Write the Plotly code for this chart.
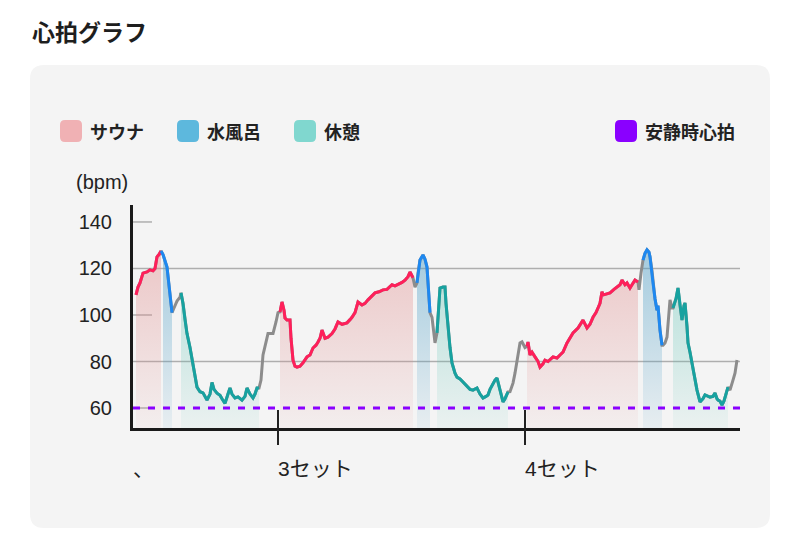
import plotly.graph_objects as go

# ---------------- data ----------------
# time in minutes, heart rate in bpm, phase per sample
# S = サウナ, W = 水風呂, R = 休憩, G = 移動(グレー)
times = [
    0.75, 1.25, 1.75, 2.5, 3.5, 4.25, 5, 5.5, 6, 6.5, 7,
    7.5, 8.5, 9.25, 9.75,
    10.25, 11, 11.75,
    12, 12.5, 13, 13.5, 14.25, 14.75, 15.5, 16, 16.75, 17.5, 18.5, 19.25, 19.75, 20.25,
    21, 21.75, 22.25, 23, 23.75, 24.25, 24.75, 25.5, 26.25, 27.25, 28, 28.5, 29.25, 30,
    30.5, 31, 31.5,
    32, 32.5, 33.25, 33.75, 34.5, 35, 35.75, 36.25,
    36.75, 37.25, 37.75, 38, 38.5, 39.25, 39.5, 40, 40.5, 41, 41.75, 42.5, 43.5, 44.25,
    45, 45.75, 46.25, 46.75, 47.25, 48, 48.75, 49.75, 50.5, 51.25, 52.25, 53.5, 54.25,
    54.75, 55.5, 56.25, 57.25, 58, 58.75, 59.75, 60.5, 61.5, 62.5, 63.5, 64.75, 65.5,
    66.25, 67.25, 68, 68.75, 69.25, 70,
    70.5,
    71, 71.25, 71.75, 72.5, 73, 73.5, 73.75, 74.25,
    74.75, 75.25, 75.5,
    76, 76.25, 76.75, 77.5, 78, 78.25, 78.75, 79.25, 79.75, 80.5, 81, 81.75, 82.5, 83.25,
    84.25, 85, 86, 86.75, 87.5, 88.25, 88.75, 89.25, 89.75, 90.5, 91, 91.75, 92.5, 93, 93.75,
    94.25, 95, 95.5, 96, 96.75, 97.25, 98,
    98.5, 98.75, 99.25, 99.75, 100.5, 101.25, 101.75, 102.5, 103, 103.75, 105, 106, 106.75,
    107.5, 108.5, 109.25, 110, 111.25, 112.5, 113.5, 114.25, 115, 115.75, 116.25, 116.75,
    117.25, 117.5, 118.25, 119.25, 120.25, 121, 121.75, 122.25, 123, 123.5, 124.25, 124.75,
    125.5, 126.25,
    126.5, 127,
    127.5, 128, 128.5, 129, 129.25, 129.75, 130, 130.5, 131, 131.25, 131.75, 132.25,
    132.5, 133, 133.5, 134, 134.25, 134.75,
    135, 135.75, 136.25, 136.75, 137.25, 137.75, 138, 138.5, 138.75, 139.25, 139.75, 140.5,
    141, 141.75, 142.5, 143, 143.75, 144.25, 145, 145.5, 146, 146.25, 146.75, 147.25, 147.75,
    148, 148.5, 148.75,
    149.25, 149.75, 150, 150.5, 151,
]
bpm = [
    108.6, 112, 113.8, 118, 118.5, 119.4, 119, 120, 125, 126, 127.5,
    126, 120.6, 108, 101,
    103, 106, 107.7,
    109.5, 105, 98, 92, 86, 80.6, 74, 69, 67, 66.5, 63.4, 66, 71, 68,
    66.4, 65.5, 64, 62, 66, 68.6, 66, 64.3, 64.8, 63.4, 65, 68.6, 66, 64.3,
    66, 68.6, 68.6,
    72, 82.8, 88, 92, 92, 92, 97, 101,
    101.3, 105.6, 102, 98.7, 97.8, 97.8, 90, 80.6, 78, 77.6, 78, 79.4, 82, 82.8,
    85.8, 87, 88.4, 90, 93.5, 90, 90.5, 92, 94, 97, 96, 96.6, 98,
    99, 101, 105.6, 104.3, 105, 106.5, 108, 109.5, 110, 110.8, 111, 113, 112.5,
    113, 114, 115, 116.5, 118.5, 116,
    112,
    113.8, 118, 123.6, 125.8, 124, 120.6, 113, 101,
    99, 92, 88,
    92.3, 100, 111.6, 112, 112, 105, 94.8, 86, 79.4, 75, 73.3, 72.5, 71.2, 70,
    68, 67.7, 68.6, 66, 64.3, 65, 65.6, 68, 69.9, 72, 72.9, 68, 62.6, 64, 66.9,
    67, 70.7, 75, 80.6, 88, 88.5, 86,
    86.5, 88.4, 82.8, 84, 82, 80, 77.6, 79, 80.6, 80, 82, 81.5, 82.8,
    84, 88, 90, 92.3, 94.4, 97.8, 94.4, 96, 99, 101, 103, 105,
    110, 108.6, 109, 109.5, 111, 112, 113, 115, 113, 113.8, 111.6, 113,
    115, 114.2,
    110.8, 118,
    123.6, 126.5, 128, 127, 125, 119, 113.8, 107, 102, 104, 93.5, 87,
    87, 88, 90.5, 100, 106.5, 103,
    103, 107, 111.6, 104, 97.8, 104, 105.2, 95, 88, 84, 79.4, 73,
    67.7, 62.6, 64, 65.6, 65, 64.7, 65, 66.4, 64, 63.4, 63, 61.3, 63,
    64.7, 67, 69,
    67.7, 70, 72, 75, 80.6,
]
# phase of each run of samples, with its sample count
phase_runs = ["S", "W", "G", "R", "G", "S", "G", "W", "G", "R", "G",
              "S", "G", "W", "G", "R", "G"]
run_lengths = [11, 4, 3, 31, 8, 46, 1, 8, 3, 29, 7,
               39, 2, 12, 6, 28, 5]

resting_hr = 60
y_ticks = [60, 80, 100, 120, 140]
grid_full = [80, 120]
grid_stub = [60, 100, 140]
x_tick_vals = [0, 36.25, 98]
x_tick_text = ["、", "3セット", "4セット"]
legend_names = ["サウナ", "水風呂", "休憩", "安静時心拍"]
legend_colors = ["#f0b1b4", "#5db8dd", "#80d7cf", "#8a00ff"]

X_RANGE = [0, 151.75]
Y_RANGE = [51.4, 147.3]

# ---------------- styles ----------------
line_colors = {"S": "#ff1f5a", "W": "#1e88f0", "R": "#17a2a0", "G": "#8c8c8c"}
fill_scales = {
    "S": [[0, "rgba(225,140,140,0.06)"], [1, "rgba(225,140,140,0.45)"]],
    "W": [[0, "rgba(80,160,200,0.08)"], [1, "rgba(80,160,200,0.50)"]],
    "R": [[0, "rgba(90,195,180,0.06)"], [1, "rgba(90,195,180,0.46)"]],
}
JP = "Noto Sans CJK JP"
NUM = "Liberation Sans, Noto Sans CJK JP"

W_PX, H_PX = 800, 543
L, R, T, B = 133, 60, 205, 115
PW, PH = W_PX - L - R, H_PX - T - B


def xp(px):
    return (px - L) / PW


def yp(py):
    return (H_PX - B - py) / PH


def rounded_rect(x0, y0, x1, y1, r):
    a, b, c, d = xp(x0), yp(y0), xp(x1), yp(y1)
    rx, ry = r / PW, r / PH
    return (f"M {a+rx},{b} L {c-rx},{b} Q {c},{b} {c},{b-ry} "
            f"L {c},{d+ry} Q {c},{d} {c-rx},{d} L {a+rx},{d} "
            f"Q {a},{d} {a},{d+ry} L {a},{b-ry} Q {a},{b} {a+rx},{b} Z")


phase = []
for p, n in zip(phase_runs, run_lengths):
    phase += [p] * n
assert len(phase) == len(times) == len(bpm), (len(phase), len(times), len(bpm))

# ---------------- segments ----------------
segments = []
start = 0
for p, n in zip(phase_runs, run_lengths):
    segments.append((p, start, start + n))
    start += n

fig = go.Figure()

# fills
for ph, s, e in segments:
    if ph == "G":
        continue
    fig.add_trace(go.Scatter(
        x=times[s:e], y=bpm[s:e], mode="lines", line=dict(width=0),
        fill="tozeroy",
        fillgradient=dict(type="vertical", colorscale=fill_scales[ph],
                          start=Y_RANGE[0], stop=130),
        hoverinfo="skip",
    ))

# resting heart rate dashed line
fig.add_trace(go.Scatter(
    x=X_RANGE, y=[resting_hr, resting_hr], mode="lines",
    line=dict(color="#8a00ff", width=3, dash="7px,8px"), hoverinfo="skip",
))

# full gray line beneath
fig.add_trace(go.Scatter(
    x=times, y=bpm, mode="lines",
    line=dict(color=line_colors["G"], width=3), hoverinfo="skip",
))

# colored segments
for ph, s, e in segments:
    if ph == "G":
        continue
    s0 = s - 1 if s > 0 and phase[s - 1] != "G" else s
    fig.add_trace(go.Scatter(
        x=times[s0:e], y=bpm[s0:e], mode="lines",
        line=dict(color=line_colors[ph], width=3), hoverinfo="skip",
    ))

shapes = []
shapes.append(dict(type="path", xref="paper", yref="paper",
                   path=rounded_rect(30, 65, 770, 528, 14),
                   fillcolor="#f4f4f4", line=dict(width=0), layer="below"))
for v in grid_full:
    shapes.append(dict(type="line", xref="paper", yref="y", x0=0, x1=1, y0=v, y1=v,
                       line=dict(color="#aeaeae", width=1.5), layer="below"))
for v in grid_stub:
    shapes.append(dict(type="line", xref="paper", yref="y", x0=0, x1=xp(152), y0=v, y1=v,
                       line=dict(color="#aeaeae", width=1.5), layer="below"))
for v in x_tick_vals[1:]:
    shapes.append(dict(type="line", xref="x", yref="paper", x0=v, x1=v,
                       y0=yp(410), y1=yp(445), line=dict(color="#222222", width=2)))

annotations = []
annotations.append(dict(text="<b>心拍グラフ</b>", xref="paper", yref="paper",
                        x=xp(30), y=yp(31), xanchor="left", yanchor="middle",
                        showarrow=False, font=dict(family=JP, size=23, color="#1e1e1e")))
legend_x = [60, 177, 294, 615]
for name, col, lx in zip(legend_names, legend_colors, legend_x):
    shapes.append(dict(type="path", xref="paper", yref="paper",
                       path=rounded_rect(lx, 120, lx + 22, 142, 5),
                       fillcolor=col, line=dict(width=0)))
    annotations.append(dict(text=f"<b>{name}</b>", xref="paper", yref="paper",
                            x=xp(lx + 28), y=yp(131), xanchor="left", yanchor="middle",
                            showarrow=False, font=dict(family=JP, size=18, color="#222222")))
annotations.append(dict(text="(bpm)", xref="paper", yref="paper",
                        x=xp(74), y=yp(182), xanchor="left", yanchor="middle",
                        showarrow=False, font=dict(family=NUM, size=20, color="#222222")))
for v, t in zip(x_tick_vals, x_tick_text):
    annotations.append(dict(text=t, xref="x", yref="paper", x=v, y=yp(468),
                            xanchor="left", yanchor="middle", xshift=-2,
                            showarrow=False, font=dict(family=NUM, size=21, color="#222222")))

fig.update_layout(
    width=W_PX, height=H_PX,
    margin=dict(l=L, r=R, t=T, b=B, pad=0),
    paper_bgcolor="white", plot_bgcolor="rgba(0,0,0,0)",
    showlegend=False,
    shapes=shapes, annotations=annotations,
    xaxis=dict(range=X_RANGE, showgrid=False, zeroline=False, showline=True,
               linecolor="#1a1a1a", linewidth=3, showticklabels=False, ticks=""),
    yaxis=dict(range=Y_RANGE, showgrid=False, zeroline=False, showline=True,
               linecolor="#1a1a1a", linewidth=3, tickvals=y_ticks,
               ticktext=[str(v) for v in y_ticks], ticks="",
               ticklabelstandoff=14,
               tickfont=dict(family=NUM, size=20, color="#222222")),
)

fig.write_html("out.html")
